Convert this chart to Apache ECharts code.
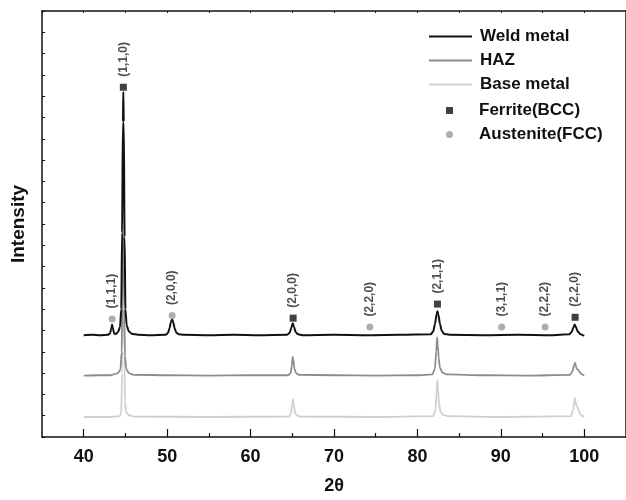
<!DOCTYPE html>
<html>
<head>
<meta charset="utf-8">
<script src="https://cdn.jsdelivr.net/npm/echarts@6/dist/echarts.min.js"></script>
<style>
  html, body { margin: 0; padding: 0; background: #fff; }
  #chart { width: 626px; height: 500px; }
</style>
</head>
<body>
<div id="chart"></div>
<script>
// XRD patterns: [2θ (deg), intensity (a.u., stacked offsets)]
const weldMetal = [
  [40.0,239],[41.0,240],[42.0,239],[42.9,240],[43.15,243],[43.3,254],[43.4,264],[43.5,255],[43.65,243],
  [43.85,242],[44.1,246],[44.35,258],[44.5,300],[44.6,480],[44.7,740],[44.75,810],[44.8,740],[44.9,470],
  [45.0,300],[45.15,262],[45.4,248],[45.8,242],[46.5,240],[48.0,239],[49.8,240],[50.1,244],[50.3,256],
  [50.45,270],[50.6,276],[50.75,268],[50.9,255],[51.1,245],[51.4,241],[52.0,240],[55.0,239],[58.0,240],
  [61.0,239],[64.4,240],[64.7,245],[64.9,257],[65.05,267],[65.2,259],[65.4,246],[65.7,241],[66.2,239],
  [70.0,240],[74.0,239],[78.0,240],[81.6,241],[81.9,248],[82.1,265],[82.3,288],[82.4,295],[82.5,288],
  [82.7,266],[82.9,250],[83.2,242],[83.8,240],[88.0,239],[92.0,240],[96.0,239],[98.2,241],[98.5,247],
  [98.7,257],[98.85,264],[99.0,258],[99.2,248],[99.5,242],[99.8,239],[100.0,238]
];
const hazMetal = [
  [40.0,144],[42.0,145],[43.2,145],[43.6,147],[44.1,150],[44.4,158],[44.55,200],[44.65,400],[44.72,712],
  [44.78,560],[44.85,300],[44.95,190],[45.1,160],[45.4,150],[46.0,146],[50.0,145],[55.0,144],[60.0,145],
  [64.5,145],[64.8,150],[64.95,168],[65.05,188],[65.12,182],[65.25,160],[65.45,150],[65.8,146],[70.0,145],
  [75.0,144],[80.0,145],[81.8,147],[82.1,160],[82.25,200],[82.35,234],[82.45,215],[82.55,185],[82.7,162],
  [83.0,151],[83.5,147],[88.0,145],[93.0,144],[98.3,146],[98.6,155],[98.8,170],[98.9,174],[99.0,166],
  [99.1,160],[99.25,158],[99.45,152],[99.7,147],[100.0,145]
];
const baseMetal = [
  [40.0,47],[43.0,47],[44.3,49],[44.5,56],[44.6,150],[44.68,450],[44.74,700],[44.8,500],[44.87,200],
  [44.95,80],[45.1,58],[45.4,51],[46.0,48],[55.0,47],[64.6,48],[64.85,55],[64.98,75],[65.08,89],[65.18,75],
  [65.35,56],[65.6,50],[66.0,48],[75.0,47],[81.9,49],[82.15,62],[82.28,100],[82.38,133],[82.47,112],
  [82.58,80],[82.75,60],[83.1,52],[83.6,49],[90.0,47],[98.4,49],[98.65,62],[98.8,82],[98.88,91],
  [98.97,80],[99.08,72],[99.2,70],[99.35,60],[99.6,51],[100.0,47]
];

// Phase markers placed above the weld-metal pattern
const ferriteTheta  = [44.75, 65.1, 82.4, 98.9];
const ferriteY      = [821, 279, 312, 281];
const ferriteHkl    = ['(1,1,0)', '(2,0,0)', '(2,1,1)', '(2,2,0)'];
const austeniteTheta = [43.4, 50.6, 74.3, 90.1, 95.3];
const austeniteY     = [277, 285, 258, 258, 258];
const austeniteHkl   = ['(1,1,1)', '(2,0,0)', '(2,2,0)', '(3,1,1)', '(2,2,2)'];

// Axis ticks
const xMajorTicks = [40, 50, 60, 70, 80, 90, 100];
const xMinorTicks = [45, 55, 65, 75, 85, 95];
const xTopTicks   = [35, 40, 45, 50, 55, 60, 65, 70, 75, 80, 85, 90, 95, 100, 105];

const FONT = 'Liberation Sans, Arial, sans-serif';
const chart = echarts.init(document.getElementById('chart'), null, { renderer: 'canvas' });

const markerLabel = {
  show: true,
  formatter: p => p.data.name,
  position: 'top',
  distance: 7,
  rotate: 90,
  align: 'left',
  verticalAlign: 'middle',
  fontFamily: FONT,
  fontWeight: 'bold',
  fontSize: 12,
  color: '#222'
};

const legendText = { fontFamily: FONT, fontWeight: 'bold', fontSize: 17, color: '#111', padding: [0, 0, 0, 3] };

const option = {
  animation: false,
  backgroundColor: '#fff',
  grid: { left: 42, top: 11, right: -4, bottom: 58, containLabel: false },
  xAxis: [
    {
      type: 'value', min: 35, max: 105, position: 'bottom',
      name: '2θ', nameLocation: 'middle', nameGap: 40,
      nameTextStyle: { fontFamily: FONT, fontWeight: 'bold', fontSize: 18, color: '#111' },
      axisLine: { show: true, lineStyle: { color: '#111', width: 1.5 } },
      axisTick: { show: true, inside: true, length: 8, customValues: xMajorTicks, lineStyle: { color: '#111', width: 1.2 } },
      axisLabel: { show: true, customValues: xMajorTicks, margin: 11, fontFamily: FONT, fontWeight: 'bold', fontSize: 18, color: '#111' },
      splitLine: { show: false }
    },
    {
      type: 'value', min: 35, max: 105, position: 'bottom',
      axisLine: { show: false },
      axisTick: { show: true, inside: true, length: 4, customValues: xMinorTicks, lineStyle: { color: '#111', width: 1.2 } },
      axisLabel: { show: false },
      splitLine: { show: false }
    },
    {
      type: 'value', min: 35, max: 105, position: 'top',
      axisLine: { show: true, lineStyle: { color: '#111', width: 1.5 } },
      axisTick: { show: true, inside: true, length: 2, customValues: xTopTicks, lineStyle: { color: '#111', width: 1 } },
      axisLabel: { show: false },
      splitLine: { show: false }
    }
  ],
  yAxis: [
    {
      type: 'value', min: 0, max: 1000, interval: 50, position: 'left',
      name: 'Intensity', nameLocation: 'middle', nameGap: 14, nameRotate: 90,
      nameTextStyle: { fontFamily: FONT, fontWeight: 'bold', fontSize: 19, color: '#111' },
      axisLine: { show: true, lineStyle: { color: '#111', width: 1.5 } },
      axisTick: { show: true, inside: true, length: 3, lineStyle: { color: '#111', width: 1 } },
      axisLabel: { show: false },
      splitLine: { show: false }
    },
    {
      type: 'value', min: 0, max: 1000, interval: 50, position: 'right',
      axisLine: { show: true, lineStyle: { color: '#111', width: 1.5 } },
      axisTick: { show: false },
      axisLabel: { show: false },
      splitLine: { show: false }
    }
  ],
  legend: [
    {
      data: ['Weld metal', 'HAZ', 'Base metal'],
      orient: 'vertical', left: 423, top: 23,
      itemWidth: 43, itemHeight: 10, itemGap: 7,
      itemStyle: { opacity: 0 },
      textStyle: legendText
    },
    {
      data: [
        { name: 'Ferrite(BCC)', icon: 'path://M0,0L1,0L1,1L0,1Z' },
        { name: 'Austenite(FCC)', icon: 'circle' }
      ],
      orient: 'vertical', left: 441, top: 97,
      itemWidth: 43, itemHeight: 7, itemGap: 7,
      symbolKeepAspect: true,
      textStyle: legendText
    }
  ],
  series: [
    {
      name: 'Base metal', type: 'line', xAxisIndex: 0, yAxisIndex: 0,
      data: baseMetal, showSymbol: false, symbol: 'none',
      smooth: 0.25, smoothMonotone: 'x', z: 2,
      lineStyle: { color: '#cfcfcf', width: 1.8 }, itemStyle: { color: '#cfcfcf' }
    },
    {
      name: 'HAZ', type: 'line', xAxisIndex: 0, yAxisIndex: 0,
      data: hazMetal, showSymbol: false, symbol: 'none',
      smooth: 0.25, smoothMonotone: 'x', z: 3,
      lineStyle: { color: '#8c8c8c', width: 1.8 }, itemStyle: { color: '#8c8c8c' }
    },
    {
      name: 'Weld metal', type: 'line', xAxisIndex: 0, yAxisIndex: 0,
      data: weldMetal, showSymbol: false, symbol: 'none',
      smooth: 0.25, smoothMonotone: 'x', z: 4,
      lineStyle: { color: '#111', width: 2 }, itemStyle: { color: '#111' }
    },
    {
      name: 'Ferrite(BCC)', type: 'scatter', xAxisIndex: 0, yAxisIndex: 0,
      symbol: 'rect', symbolSize: 7, z: 5,
      itemStyle: { color: '#111' },
      data: ferriteTheta.map((t, i) => ({ value: [t, ferriteY[i]], name: ferriteHkl[i] })),
      label: markerLabel
    },
    {
      name: 'Austenite(FCC)', type: 'scatter', xAxisIndex: 0, yAxisIndex: 0,
      symbol: 'circle', symbolSize: 7, z: 5,
      itemStyle: { color: '#9a9a9a' },
      data: austeniteTheta.map((t, i) => ({ value: [t, austeniteY[i]], name: austeniteHkl[i] })),
      label: markerLabel
    }
  ]
};

chart.setOption(option);
</script>
</body>
</html>
